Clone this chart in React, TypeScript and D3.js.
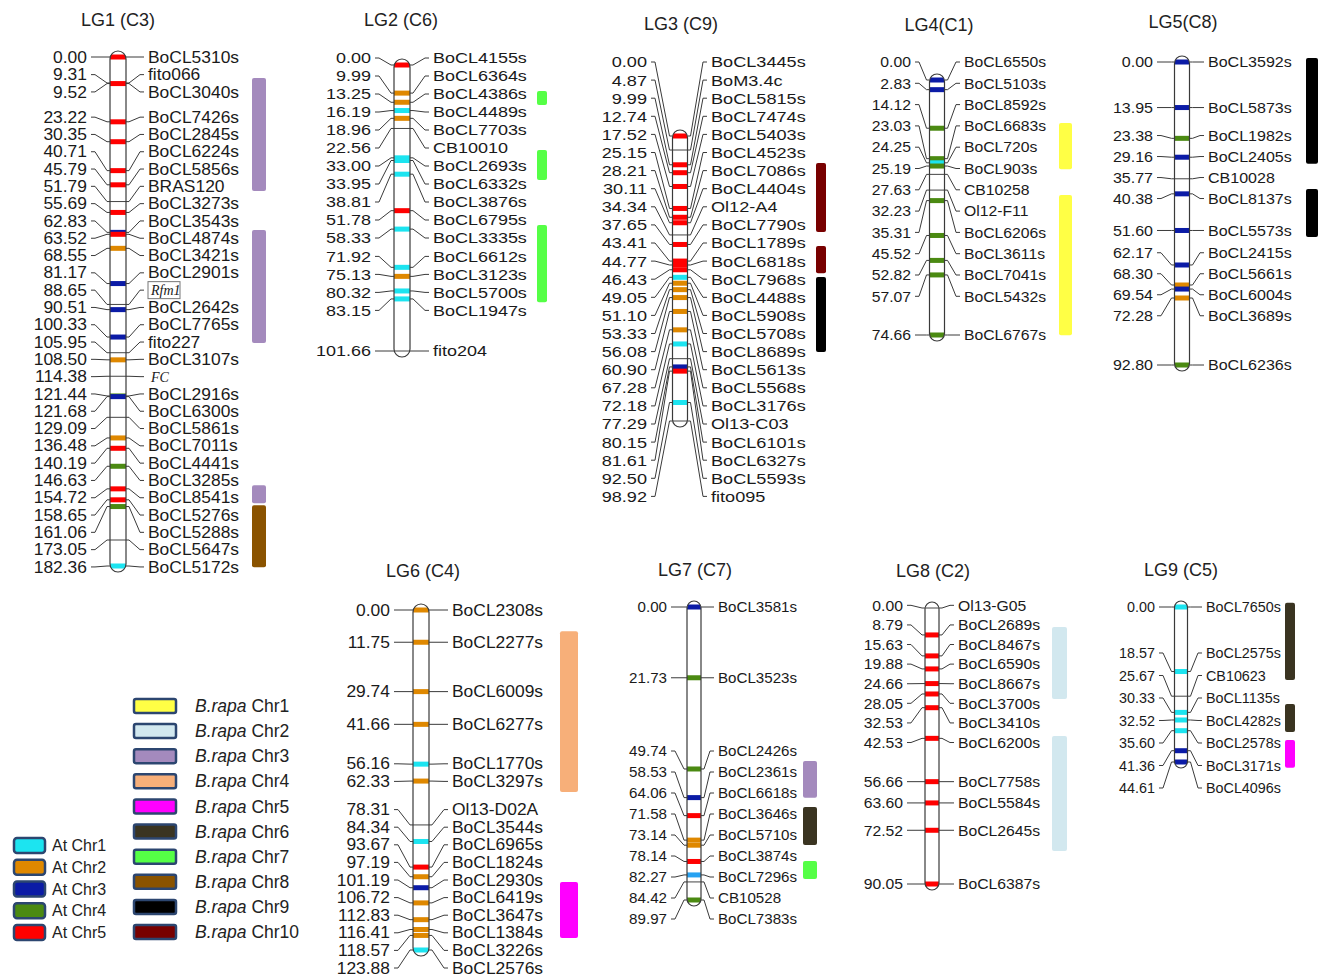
import React, { useEffect, useRef } from "react";
import * as d3 from "d3";

// ---- data: marker positions (cM), names, At chromosome of each marker (0 = none), B. rapa blocks [chr, from cM, to cM]
const lg1Pos = [0.00, 9.31, 9.52, 23.22, 30.35, 40.71, 45.79, 51.79, 55.69, 62.83, 63.52, 68.55, 81.17, 88.65, 90.51, 100.33, 105.95, 108.50, 114.38, 121.44, 121.68, 129.09, 136.48, 140.19, 146.63, 154.72, 158.65, 161.06, 173.05, 182.36];
const lg1Names = ["BoCL5310s", "fito066", "BoCL3040s", "BoCL7426s", "BoCL2845s", "BoCL6224s", "BoCL5856s", "BRAS120", "BoCL3273s", "BoCL3543s", "BoCL4874s", "BoCL3421s", "BoCL2901s", "Rfm1", "BoCL2642s", "BoCL7765s", "fito227", "BoCL3107s", "FC", "BoCL2916s", "BoCL6300s", "BoCL5861s", "BoCL7011s", "BoCL4441s", "BoCL3285s", "BoCL8541s", "BoCL5276s", "BoCL5288s", "BoCL5647s", "BoCL5172s"];
const lg1At = [5, 0, 5, 5, 5, 5, 5, 0, 5, 3, 5, 2, 3, 0, 3, 3, 0, 2, 0, 4, 3, 0, 2, 5, 4, 5, 5, 4, 0, 1];
const lg1Blocks = [[3, 7.5, 48.0], [3, 62.0, 102.5], [3, 153.4, 159.9], [8, 160.6, 182.8]];

const lg2Pos = [0.00, 9.99, 13.25, 16.19, 18.96, 22.56, 33.00, 33.95, 38.81, 51.78, 58.33, 71.92, 75.13, 80.32, 83.15, 101.66];
const lg2Names = ["BoCL4155s", "BoCL6364s", "BoCL4386s", "BoCL4489s", "BoCL7703s", "CB10010", "BoCL2693s", "BoCL6332s", "BoCL3876s", "BoCL6795s", "BoCL3335s", "BoCL6612s", "BoCL3123s", "BoCL5700s", "BoCL1947s", "fito204"];
const lg2At = [5, 2, 2, 1, 2, 0, 1, 1, 1, 5, 1, 1, 2, 1, 1, 0];
const lg2Blocks = [[7, 9.2, 14.2], [7, 30.2, 40.9], [7, 56.9, 84.3]];

const lg3Pos = [0.00, 4.87, 9.99, 12.74, 17.52, 25.15, 28.21, 30.11, 34.34, 37.65, 43.41, 44.77, 46.43, 49.05, 51.10, 53.33, 56.08, 60.90, 67.28, 72.18, 77.29, 80.15, 81.61, 92.50, 98.92];
const lg3Names = ["BoCL3445s", "BoM3.4c", "BoCL5815s", "BoCL7474s", "BoCL5403s", "BoCL4523s", "BoCL7086s", "BoCL4404s", "Ol12-A4", "BoCL7790s", "BoCL1789s", "BoCL6818s", "BoCL7968s", "BoCL4488s", "BoCL5908s", "BoCL5708s", "BoCL8689s", "BoCL5613s", "BoCL5568s", "BoCL3176s", "Ol13-C03", "BoCL6101s", "BoCL6327s", "BoCL5593s", "fito095"];
const lg3At = [5, 0, 5, 5, 5, 5, 5, 5, 0, 5, 5, 5, 5, 1, 2, 2, 2, 2, 2, 1, 0, 3, 5, 1, 0];
const lg3Blocks = [[10, 9.4, 33.3], [10, 38.2, 47.6], [9, 48.9, 75.0]];

const lg4Pos = [0.00, 2.83, 14.12, 23.03, 24.25, 25.19, 27.63, 32.23, 35.31, 45.52, 52.82, 57.07, 74.66];
const lg4Names = ["BoCL6550s", "BoCL5103s", "BoCL8592s", "BoCL6683s", "BoCL720s", "BoCL903s", "CB10258", "Ol12-F11", "BoCL6206s", "BoCL3611s", "BoCL7041s", "BoCL5432s", "BoCL6767s"];
const lg4At = [3, 3, 4, 4, 1, 4, 0, 0, 4, 4, 4, 4, 4];
const lg4Blocks = [[1, 12.6, 26.1], [1, 33.7, 74.7]];

const lg5Pos = [0.00, 13.95, 23.38, 29.16, 35.77, 40.38, 51.60, 62.17, 68.30, 69.54, 72.28, 92.80];
const lg5Names = ["BoCL3592s", "BoCL5873s", "BoCL1982s", "BoCL2405s", "CB10028", "BoCL8137s", "BoCL5573s", "BoCL2415s", "BoCL5661s", "BoCL6004s", "BoCL3689s", "BoCL6236s"];
const lg5At = [3, 3, 4, 3, 0, 3, 3, 3, 2, 3, 2, 4];
const lg5Blocks = [[9, -1.2, 31.2], [9, 38.9, 53.6]];

const lg6Pos = [0.00, 11.75, 29.74, 41.66, 56.16, 62.33, 78.31, 84.34, 93.67, 97.19, 101.19, 106.72, 112.83, 116.41, 118.57, 123.88];
const lg6Names = ["BoCL2308s", "BoCL2277s", "BoCL6009s", "BoCL6277s", "BoCL1770s", "BoCL3297s", "Ol13-D02A", "BoCL3544s", "BoCL6965s", "BoCL1824s", "BoCL2930s", "BoCL6419s", "BoCL3647s", "BoCL1384s", "BoCL3226s", "BoCL2576s"];
const lg6At = [2, 2, 2, 2, 1, 2, 0, 1, 5, 2, 3, 2, 2, 2, 2, 1];
const lg6Blocks = [[4, 7.7, 66.3], [5, 99.1, 119.5]];

const lg7Pos = [0.00, 21.73, 49.74, 58.53, 64.06, 71.58, 73.14, 78.14, 82.27, 84.42, 89.97];
const lg7Names = ["BoCL3581s", "BoCL3523s", "BoCL2426s", "BoCL2361s", "BoCL6618s", "BoCL3646s", "BoCL5710s", "BoCL3874s", "BoCL7296s", "CB10528", "BoCL7383s"];
const lg7At = [3, 4, 4, 3, 5, 2, 2, 5, 6, 0, 4];
const lg7Blocks = [[3, 47.3, 58.6], [6, 61.4, 73.1], [7, 78.0, 83.5]];

const lg8Pos = [0.00, 8.79, 15.63, 19.88, 24.66, 28.05, 32.53, 42.53, 56.66, 63.60, 72.52, 90.05];
const lg8Names = ["Ol13-G05", "BoCL2689s", "BoCL8467s", "BoCL6590s", "BoCL8667s", "BoCL3700s", "BoCL3410s", "BoCL6200s", "BoCL7758s", "BoCL5584s", "BoCL2645s", "BoCL6387s"];
const lg8At = [0, 5, 5, 5, 5, 5, 5, 5, 5, 5, 5, 5];
const lg8Blocks = [[2, 6.2, 29.7], [2, 41.8, 79.3]];

const lg9Pos = [0.00, 18.57, 25.67, 30.33, 32.52, 35.60, 41.36, 44.61];
const lg9Names = ["BoCL7650s", "BoCL2575s", "CB10623", "BoCL1135s", "BoCL4282s", "BoCL2578s", "BoCL3171s", "BoCL4096s"];
const lg9At = [1, 1, 0, 1, 1, 1, 3, 3];
const lg9Blocks = [[6, -1.2, 21.0], [6, 27.9, 36.0], [5, 38.3, 46.3]];

const titles = ["LG1 (C3)", "LG2 (C6)", "LG3 (C9)", "LG4(C1)", "LG5(C8)", "LG6 (C4)", "LG7 (C7)", "LG8 (C2)", "LG9 (C5)"];
const atLegend = [1, 2, 3, 4, 5];
const rapaLegend = [1, 2, 3, 4, 5, 6, 7, 8, 9, 10];
const italicNames = ["Rfm1", "FC"];

const atColors: Record<number, string> = { 1: "#1CE4F0", 2: "#DF8800", 3: "#0B1BA6", 4: "#4B8A12", 5: "#FF0000", 6: "#27A2F2" };
const rapaColors: Record<number, string> = { 1: "#FFFF45", 2: "#D2E8EF", 3: "#A48ABD", 4: "#F7AF79", 5: "#FF00FF", 6: "#3A3421", 7: "#55FF46", 8: "#8A5300", 9: "#000000", 10: "#780000" };

const maps = [
  { pos: lg1Pos, names: lg1Names, at: lg1At, blocks: lg1Blocks },
  { pos: lg2Pos, names: lg2Names, at: lg2At, blocks: lg2Blocks },
  { pos: lg3Pos, names: lg3Names, at: lg3At, blocks: lg3Blocks },
  { pos: lg4Pos, names: lg4Names, at: lg4At, blocks: lg4Blocks },
  { pos: lg5Pos, names: lg5Names, at: lg5At, blocks: lg5Blocks },
  { pos: lg6Pos, names: lg6Names, at: lg6At, blocks: lg6Blocks },
  { pos: lg7Pos, names: lg7Names, at: lg7At, blocks: lg7Blocks },
  { pos: lg8Pos, names: lg8Names, at: lg8At, blocks: lg8Blocks },
  { pos: lg9Pos, names: lg9Names, at: lg9At, blocks: lg9Blocks },
];

// layout of each linkage group on the page (minY / maxY bound the label column)
const layout = [
  { cx: 118, w: 16, y0: 57, y1: 566, gap: 17.3, minY: 0, maxY: 2000, lx: 87, rx: 148, fs: 16, sx: 1.09, bx: 252, bw: 14, tx: 118, ty: 26 },
  { cx: 402, w: 16, y0: 65, y1: 351, gap: 18.0, minY: 58, maxY: 2000, lx: 371, rx: 433, fs: 15.5, sx: 1.16, bx: 537, bw: 10, tx: 401, ty: 26 },
  { cx: 680, w: 15, y0: 136, y1: 421, gap: 18.1, minY: 62, maxY: 2000, lx: 647, rx: 711, fs: 15.5, sx: 1.17, bx: 816, bw: 10, tx: 681, ty: 30 },
  { cx: 937, w: 15, y0: 80, y1: 335, gap: 21.3, minY: 62, maxY: 2000, lx: 911, rx: 964, fs: 15, sx: 1.05, bx: 1059, bw: 13, tx: 939, ty: 31 },
  { cx: 1182, w: 15, y0: 62, y1: 365, gap: 21, minY: 0, maxY: 2000, lx: 1153, rx: 1208, fs: 15, sx: 1.07, bx: 1306, bw: 12, tx: 1183, ty: 28 },
  { cx: 421, w: 16, y0: 610, y1: 950, gap: 17.6, minY: 0, maxY: 968, lx: 390, rx: 452, fs: 16, sx: 1.09, bx: 560, bw: 18, tx: 423, ty: 577 },
  { cx: 694, w: 14, y0: 607, y1: 900, gap: 21, minY: 0, maxY: 919, lx: 667, rx: 718, fs: 15, sx: 1.01, bx: 803, bw: 14, tx: 695, ty: 576 },
  { cx: 932, w: 14, y0: 608, y1: 884, gap: 19.6, minY: 0, maxY: 2000, lx: 903, rx: 958, fs: 15, sx: 1.05, bx: 1052, bw: 15, tx: 933, ty: 577 },
  { cx: 1181, w: 13, y0: 607, y1: 762, gap: 22.5, minY: 0, maxY: 2000, lx: 1155, rx: 1206, fs: 14.5, sx: 0.99, bx: 1285, bw: 10, tx: 1181, ty: 576 },
];

// push labels apart so they are at least `gap` apart, keeping each group centred on its markers
function spread(ys: number[], gap: number, minY: number, maxY: number) {
  const groups: number[][] = [];
  const top = (g: number[]) => {
    const t = d3.mean(g, (k, j) => ys[k] - j * gap) as number;
    return Math.max(minY, Math.min(maxY - (g.length - 1) * gap, t));
  };
  ys.forEach((_, k) => {
    groups.push([k]);
    while (groups.length > 1) {
      const a = groups[groups.length - 2], b = groups[groups.length - 1];
      if (top(a) + a.length * gap > top(b) + 0.01) groups.splice(groups.length - 2, 2, a.concat(b));
      else break;
    }
  });
  const out: number[] = [];
  groups.forEach(g => { const t = top(g); g.forEach((k, j) => { out[k] = t + j * gap; }); });
  return out;
}

const font = "'Liberation Sans', Arial, sans-serif";

export default function App() {
  const ref = useRef<SVGSVGElement>(null);

  useEffect(() => {
    const svg = d3.select(ref.current);
    svg.selectAll("*").remove();
    svg.append("rect").attr("width", 1319).attr("height", 978).attr("fill", "white");
    const line = d3.line();

    maps.forEach((m, i) => {
      const L = layout[i];
      const y = d3.scaleLinear().domain([0, d3.max(m.pos) as number]).range([L.y0, L.y1]);
      const g = svg.append("g");
      const yc = m.pos.map(p => y(p));
      const yl = spread(yc, L.gap, L.minY, L.maxY);
      const left = L.cx - L.w / 2, right = L.cx + L.w / 2;

      g.append("text").attr("x", L.tx).attr("y", L.ty).attr("text-anchor", "middle")
        .style("font-family", font).style("font-size", "18px").attr("fill", "#222").text(titles[i]);

      // B. rapa blocks
      g.selectAll(".blk").data(m.blocks).join("rect").attr("class", "blk")
        .attr("x", L.bx).attr("width", L.bw)
        .attr("y", d => y(d[1])).attr("height", d => y(d[2]) - y(d[1]))
        .attr("rx", 2).attr("fill", d => rapaColors[d[0]]);

      // chromosome body
      const id = "clip" + i;
      g.append("clipPath").attr("id", id).append("rect")
        .attr("x", left).attr("y", L.y0 - 6).attr("width", L.w).attr("height", L.y1 - L.y0 + 12).attr("rx", L.w / 2);
      g.append("rect").attr("x", left).attr("y", L.y0 - 6).attr("width", L.w).attr("height", L.y1 - L.y0 + 12)
        .attr("rx", L.w / 2).attr("fill", "white");
      const bands = g.append("g").attr("clip-path", `url(#${id})`);
      m.pos.forEach((p, k) => {
        if (m.at[k]) {
          bands.append("rect").attr("x", left).attr("width", L.w).attr("y", y(p) - 2.5).attr("height", 5)
            .attr("fill", atColors[m.at[k]]);
        } else {
          bands.append("line").attr("x1", left).attr("x2", right).attr("y1", y(p)).attr("y2", y(p))
            .attr("stroke", "#444").attr("stroke-width", 1);
        }
      });
      g.append("rect").attr("x", left).attr("y", L.y0 - 6).attr("width", L.w).attr("height", L.y1 - L.y0 + 12)
        .attr("rx", L.w / 2).attr("fill", "none").attr("stroke", "#3a3a3a").attr("stroke-width", 1.2);

      // connectors
      m.pos.forEach((p, k) => {
        g.append("path").attr("fill", "none").attr("stroke", "#3a3a3a").attr("stroke-width", 1)
          .attr("d", line([[L.lx + 4, yl[k]], [L.lx + 8, yl[k]], [left - 3, yc[k]], [left, yc[k]]]));
        g.append("path").attr("fill", "none").attr("stroke", "#3a3a3a").attr("stroke-width", 1)
          .attr("d", line([[right, yc[k]], [right + 3, yc[k]], [L.rx - 8, yl[k]], [L.rx - 4, yl[k]]]));
      });

      // position labels
      g.selectAll(".pl").data(m.pos).join("text").attr("class", "pl")
        .attr("transform", (d, k) => `translate(${L.lx},${yl[k]}) scale(${L.sx},1)`)
        .attr("text-anchor", "end").attr("dy", "0.35em")
        .style("font-family", font).style("font-size", L.fs + "px").attr("fill", "#1a1a1a")
        .text(d => d.toFixed(2));

      // marker names
      m.names.forEach((n, k) => {
        const special = italicNames.includes(n);
        if (n === "Rfm1") {
          g.append("rect").attr("x", L.rx).attr("y", yl[k] - 8.5).attr("width", 32).attr("height", 17)
            .attr("fill", "white").attr("stroke", "#777").attr("stroke-width", 1);
        }
        g.append("text")
          .attr("transform", `translate(${special ? L.rx + 3 : L.rx},${yl[k]}) scale(${special ? 1 : L.sx},1)`)
          .attr("dy", "0.35em")
          .style("font-family", special ? "'Liberation Serif', 'Times New Roman', serif" : font)
          .style("font-style", special ? "italic" : "normal")
          .style("font-size", (special ? 14 : L.fs) + "px").attr("fill", "#1a1a1a")
          .text(n);
      });
    });

    // legend: At chromosomes
    const lg = svg.append("g");
    const atY = d3.scaleLinear().domain([1, 5]).range([845.5, 932.5]);
    lg.selectAll(".atbox").data(atLegend).join("rect").attr("class", "atbox")
      .attr("x", 14).attr("y", d => atY(d) - 7.5).attr("width", 31).attr("height", 15).attr("rx", 3)
      .attr("fill", d => atColors[d]).attr("stroke", "#2C4670").attr("stroke-width", 2.5);
    lg.selectAll(".attx").data(atLegend).join("text").attr("class", "attx")
      .attr("x", 52).attr("y", d => atY(d)).attr("dy", "0.35em")
      .style("font-family", font).style("font-size", "16px").attr("fill", "#222")
      .text(d => "At Chr" + d);

    // legend: B. rapa chromosomes
    const brY = d3.scaleLinear().domain([1, 10]).range([706, 932]);
    lg.selectAll(".brbox").data(rapaLegend).join("rect").attr("class", "brbox")
      .attr("x", 134).attr("y", d => brY(d) - 7).attr("width", 42).attr("height", 14).attr("rx", 2)
      .attr("fill", d => rapaColors[d]).attr("stroke", "#2C4670").attr("stroke-width", 2.5);
    const bt = lg.selectAll(".brtx").data(rapaLegend).join("text").attr("class", "brtx")
      .attr("x", 195).attr("y", d => brY(d)).attr("dy", "0.35em")
      .style("font-family", font).style("font-size", "17.5px").attr("fill", "#222");
    bt.append("tspan").style("font-style", "italic").text("B.rapa");
    bt.append("tspan").text(d => " Chr" + d);
  }, []);

  return (
    <svg ref={ref} width={1319} height={978} style={{ position: "absolute", left: 0, top: 0 }} />
  );
}
